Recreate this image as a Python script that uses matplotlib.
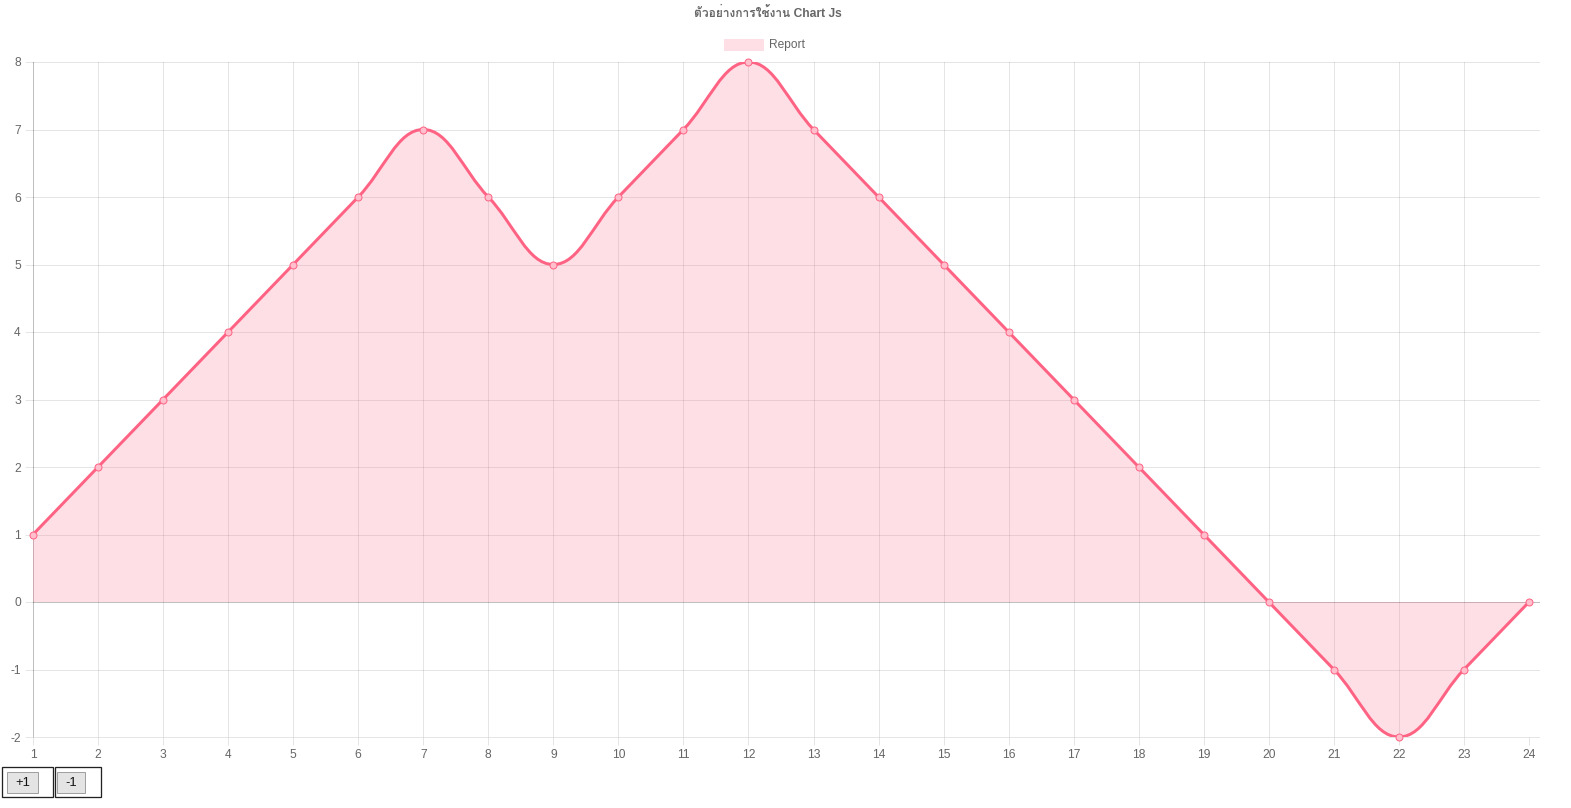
import matplotlib
matplotlib.use("Agg")
import matplotlib.pyplot as plt
import numpy as np
from matplotlib import font_manager
from matplotlib.ft2font import FT2Font
from matplotlib.path import Path
from matplotlib.patches import PathPatch, Rectangle

# Data
labels = [str(i) for i in range(1, 25)]
values = [1, 2, 3, 4, 5, 6, 7, 6, 5, 6, 7, 8, 7, 6, 5, 4, 3, 2, 1, 0, -1, -2, -1, 0]
y_ticks = [-2, -1, 0, 1, 2, 3, 4, 5, 6, 7, 8]
title = "ตัวอย่างการใช้งาน Chart Js"
series_name = "Report"
buttons = ["+1", "-1"]

# find a font that has Thai glyphs
thai_font = None
for f in font_manager.fontManager.ttflist:
    try:
        if 0x0E15 in FT2Font(f.fname).get_charmap():
            thai_font = f.name
            break
    except Exception:
        pass
fams = ["Liberation Sans", "DejaVu Sans"]
if thai_font:
    fams = ["Liberation Sans", thai_font, "DejaVu Sans"]
plt.rcParams["font.family"] = fams
plt.rcParams["axes.unicode_minus"] = False

W, H = 1571, 808
fig = plt.figure(figsize=(W / 100, H / 100), dpi=100)
px = 72 / 100  # points per pixel

left, right, top, bottom = 33, 1529, 62, 737
ax = fig.add_axes([left / W, 1 - bottom / H, (right - left) / W, (bottom - top) / H])
x = np.arange(1, len(values) + 1)
ax.set_xlim(1, len(values))
ax.set_ylim(-2, 8)

pink = (1, 99 / 255, 132 / 255)
pink_fill = (1, 99 / 255, 132 / 255, 0.2)
grid = (0, 0, 0, 0.1)
zero = (0, 0, 0, 0.25)

# gridlines, chart.js style (horizontal ones run a little past the last point)
for yt in y_ticks:
    ax.axhline(yt, xmax=1.007, color=zero if yt == 0 else grid, lw=1 * px,
               zorder=0, clip_on=False)
for i, xt in enumerate(x):
    ax.axvline(xt, color=zero if i == 0 else grid, lw=1 * px, zorder=0)

# chart.js bezier (tension 0.4) computed in pixel space
pts = ax.transData.transform(np.column_stack([x, values]))
t = 0.4
n = len(pts)
cp_prev = np.zeros_like(pts)
cp_next = np.zeros_like(pts)
for i in range(n):
    p0 = pts[i - 1] if i > 0 else pts[i]
    p1 = pts[i]
    p2 = pts[i + 1] if i < n - 1 else pts[i]
    d01 = np.hypot(*(p1 - p0))
    d12 = np.hypot(*(p2 - p1))
    s01 = d01 / (d01 + d12) if d01 + d12 else 0
    s12 = d12 / (d01 + d12) if d01 + d12 else 0
    cp_prev[i] = p1 - t * s01 * (p2 - p0)
    cp_next[i] = p1 + t * s12 * (p2 - p0)
inv = ax.transData.inverted()
cp_prev = inv.transform(cp_prev)
cp_next = inv.transform(cp_next)
data_pts = np.column_stack([x, values]).astype(float)
# clamp control points to the chart area
for c in (cp_prev, cp_next):
    c[:, 0] = np.clip(c[:, 0], 1, len(values))
    c[:, 1] = np.clip(c[:, 1], -2, 8)

verts = [data_pts[0]]
codes = [Path.MOVETO]
for i in range(n - 1):
    verts += [cp_next[i], cp_prev[i + 1], data_pts[i + 1]]
    codes += [Path.CURVE4] * 3
line_path = Path(verts, codes)
fill_path = Path(verts + [(x[-1], 0), (x[0], 0), (x[0], 0)],
                 codes + [Path.LINETO, Path.LINETO, Path.CLOSEPOLY])
ax.add_patch(PathPatch(fill_path, facecolor=pink_fill, edgecolor="none", zorder=1))
ax.add_patch(PathPatch(line_path, facecolor="none", edgecolor=pink, lw=3 * px,
                       zorder=2, capstyle="butt", joinstyle="round"))
ax.plot(x, values, "o", ms=7 * px, mfc=(1, 0.75, 0.8), mec=pink, mew=1 * px,
        zorder=3, clip_on=False)

ax.set_xticks(x)
ax.set_xticklabels(labels)
ax.set_yticks(y_ticks)
ax.tick_params(colors="#666666", labelsize=12 * px, length=8 * px, width=1 * px, pad=3)
ax.tick_params(axis="both", color=grid)
for s in ax.spines.values():
    s.set_visible(False)
ax.set_facecolor("none")

# overlay in pixel coords for title, legend and buttons
ov = fig.add_axes([0, 0, 1, 1], zorder=-1)
ov.set_xlim(0, W)
ov.set_ylim(H, 0)
ov.axis("off")
ov.text(768, 13, title, ha="center", va="center", fontsize=12 * px,
        fontweight="bold", color="#666666")
ov.add_patch(Rectangle((724, 39), 40, 12, facecolor=pink_fill, edgecolor="none"))
ov.text(769, 45, series_name, ha="left", va="center", fontsize=12 * px, color="#666666")

boxes = [(2, 53, 7, 38), (55, 101, 57, 85)]
for (bx0, bx1, ix0, ix1), lab in zip(boxes, buttons):
    ov.add_patch(Rectangle((bx0, 767), bx1 - bx0, 30, facecolor="white",
                           edgecolor="#222222", lw=1.3 * px))
    ov.add_patch(Rectangle((ix0, 772), ix1 - ix0, 21, facecolor="#e4e4e4",
                           edgecolor="#a0a0a0", lw=1 * px))
    ov.text((ix0 + ix1) / 2, 783, lab, ha="center", va="center",
            fontsize=13 * px, color="#111111")

fig.savefig("out.png", dpi=100)
